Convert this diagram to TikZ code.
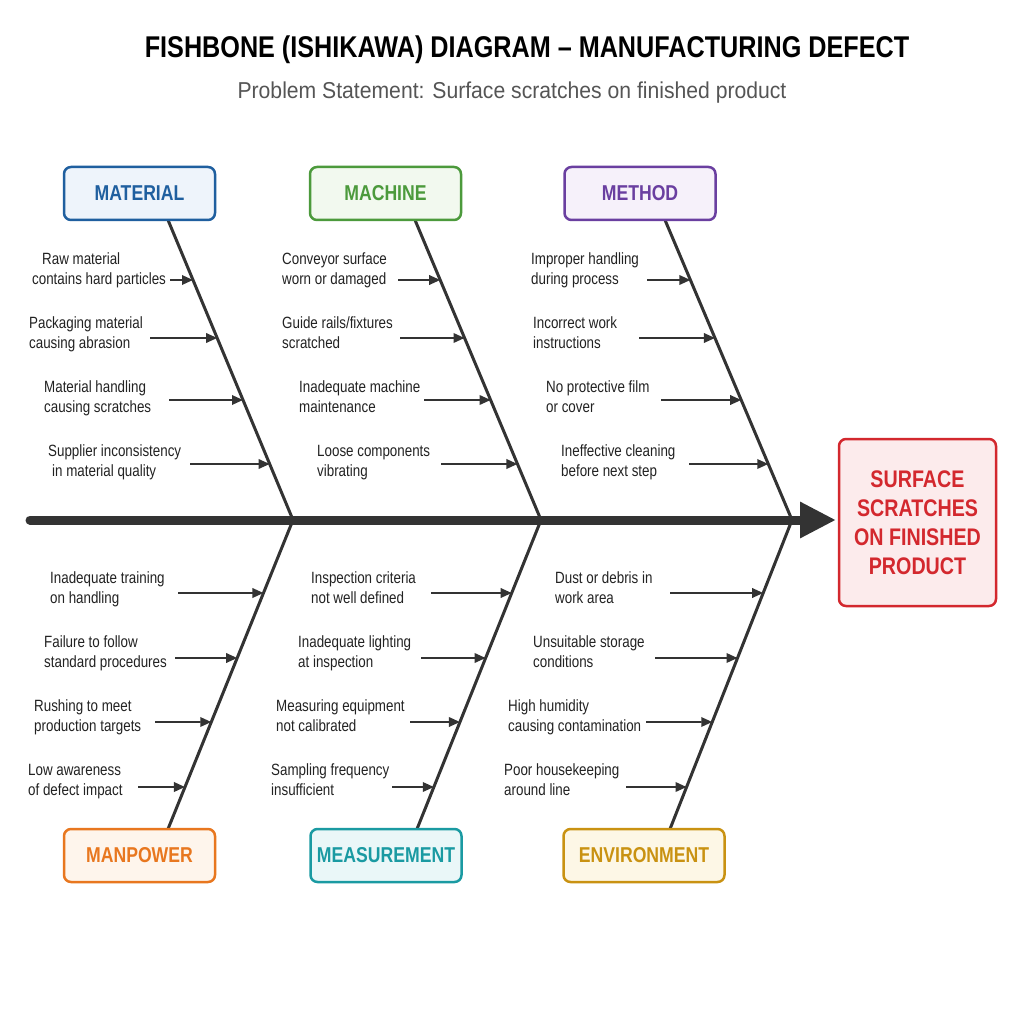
\documentclass[tikz,border=0pt]{standalone}
\usepackage{fontspec}
\setmainfont{Liberation Sans}[FakeStretch=0.82]
\newfontfamily\titlefont{Liberation Sans}[FakeStretch=0.84]
\newfontfamily\subfont{Liberation Sans}[FakeStretch=0.92]
\usetikzlibrary{calc,arrows.meta}
\definecolor{ink}{HTML}{333333}
\definecolor{txt}{HTML}{222222}
\definecolor{subc}{HTML}{555555}
\definecolor{matc}{HTML}{1F5F9F}\definecolor{matf}{HTML}{EEF4FB}
\definecolor{macc}{HTML}{4C9A3C}\definecolor{macf}{HTML}{F2F9EF}
\definecolor{metc}{HTML}{6A3FA0}\definecolor{metf}{HTML}{F6F1FA}
\definecolor{manc}{HTML}{E8771F}\definecolor{manf}{HTML}{FEF5EC}
\definecolor{meac}{HTML}{1A9AA2}\definecolor{meaf}{HTML}{EAF7F8}
\definecolor{envc}{HTML}{C99212}\definecolor{envf}{HTML}{FDF7E6}
\definecolor{effc}{HTML}{D3282E}\definecolor{efff}{HTML}{FCEBEC}
\tikzset{
  catbox/.style={draw=#1c, fill=#1f, text=#1c, line width=2.5pt, rounded corners=7pt,
    minimum width=151pt, minimum height=53pt, inner sep=0pt,
    font=\fontsize{21.5}{24}\selectfont\bfseries},
  lbl/.style={align=left, anchor=base west, inner sep=0pt, text=txt,
    font=\fontsize{16.3}{20}\selectfont},
  bone/.style={draw=ink, line width=3pt},
  causearrow/.style={draw=ink, line width=1.8pt, -{Triangle[length=11pt,width=9.5pt]}},
}
% the base anchor of a two-line node is the baseline of its last line
\newcommand{\causeT}[6]{% name, text x, first baseline y, text, arrow start x, arrow y ; bone prefix in \bp
  \node[lbl] (#1) at (#2,#3+20) {#4};
  \coordinate (#1s) at (#5,#6);
  \pgfmathsetmacro\tfr{(#6-220)/300}
  \draw[causearrow] (#1s) -- ($(\bp T)!\tfr!(\bp B)$);
}
\newcommand{\causeB}[6]{%
  \node[lbl] (#1) at (#2,#3+20) {#4};
  \coordinate (#1s) at (#5,#6);
  \pgfmathsetmacro\tfr{(#6-520)/309}
  \draw[causearrow] (#1s) -- ($(\bp T)!\tfr!(\bp B)$);
}
\begin{document}
\begin{tikzpicture}[x=1pt,y=-1pt]
\useasboundingbox[fill=white] (0,0) rectangle (1024,1024);
% titles
\node[font=\titlefont\fontsize{30}{34}\selectfont\bfseries, text=black] (title) at (527,50) {FISHBONE (ISHIKAWA) DIAGRAM – MANUFACTURING DEFECT};
\node[font=\subfont\fontsize{23}{26}\selectfont, text=subc] (sub) at (512,93) {Problem Statement: Surface scratches on finished product};
% bone coordinates
\coordinate (matT) at (168,220); \coordinate (matB) at (293,520);
\coordinate (macT) at (415,220); \coordinate (macB) at (541,520);
\coordinate (metT) at (665,220); \coordinate (metB) at (792,520);
\coordinate (manT) at (293,520); \coordinate (manB) at (168,829);
\coordinate (meaT) at (541,520); \coordinate (meaB) at (417,829);
\coordinate (envT) at (792,520); \coordinate (envB) at (670,829);
\coordinate (spL) at (30,520); \coordinate (spR) at (836,520);
% spine
\draw[ink, line width=9pt, line cap=round, -{Triangle[length=36pt,width=34pt]}] (spL) -- (spR);
% bones
\foreach \b in {mat,mac,met,man,mea,env} \draw[bone] (\b T) -- (\b B);
% category boxes
\node[catbox=mat] (material) at (139.5,193.5) {MATERIAL};
\node[catbox=mac] (machine) at (385.5,193.5) {MACHINE};
\node[catbox=met] (method) at (640,193.5) {METHOD};
\node[catbox=man] (manpower) at (139.5,855.5) {MANPOWER};
\node[catbox=mea] (measurement) at (386,855.5) {MEASUREMENT};
\node[catbox=env, minimum width=161pt] (environment) at (644,855.5) {ENVIRONMENT};
% effect
\node[draw=effc, fill=efff, text=effc, line width=2.5pt, rounded corners=7pt,
  minimum width=157pt, minimum height=167pt, align=center,
  font=\fontsize{24}{29}\selectfont\bfseries] (effect) at (917.5,522.5)
  {SURFACE\\SCRATCHES\\ON FINISHED\\PRODUCT};
% causes: material
\def\bp{mat}
\causeT{c11}{42}{264}{Raw material\\\hspace*{-10pt}contains hard particles}{170}{280}
\causeT{c12}{29}{328}{Packaging material\\causing abrasion}{150}{338}
\causeT{c13}{44}{392}{Material handling\\causing scratches}{169}{400}
\causeT{c14}{48}{456}{Supplier inconsistency\\\hspace*{4pt}in material quality}{190}{464}
% machine
\def\bp{mac}
\causeT{c21}{282}{264}{Conveyor surface\\worn or damaged}{398}{280}
\causeT{c22}{282}{328}{Guide rails/fixtures\\scratched}{400}{338}
\causeT{c23}{299}{392}{Inadequate machine\\maintenance}{424}{400}
\causeT{c24}{317}{456}{Loose components\\vibrating}{441}{464}
% method
\def\bp{met}
\causeT{c31}{531}{264}{Improper handling\\during process}{647}{280}
\causeT{c32}{533}{328}{Incorrect work\\instructions}{639}{338}
\causeT{c33}{546}{392}{No protective film\\or cover}{661}{400}
\causeT{c34}{561}{456}{Ineffective cleaning\\before next step}{689}{464}
% manpower
\def\bp{man}
\causeB{c41}{50}{583}{Inadequate training\\on handling}{178}{593}
\causeB{c42}{44}{647}{Failure to follow\\standard procedures}{175}{658}
\causeB{c43}{34}{711}{Rushing to meet\\production targets}{155}{722}
\causeB{c44}{28}{775}{Low awareness\\of defect impact}{138}{787}
% measurement
\def\bp{mea}
\causeB{c51}{311}{583}{Inspection criteria\\not well defined}{431}{593}
\causeB{c52}{298}{647}{Inadequate lighting\\at inspection}{421}{658}
\causeB{c53}{276}{711}{Measuring equipment\\not calibrated}{410}{722}
\causeB{c54}{271}{775}{Sampling frequency\\insufficient}{392}{787}
% environment
\def\bp{env}
\causeB{c61}{555}{583}{Dust or debris in\\work area}{670}{593}
\causeB{c62}{533}{647}{Unsuitable storage\\conditions}{655}{658}
\causeB{c63}{508}{711}{High humidity\\causing contamination}{646}{722}
\causeB{c64}{504}{775}{Poor housekeeping\\around line}{626}{787}
\end{tikzpicture}
\end{document}
